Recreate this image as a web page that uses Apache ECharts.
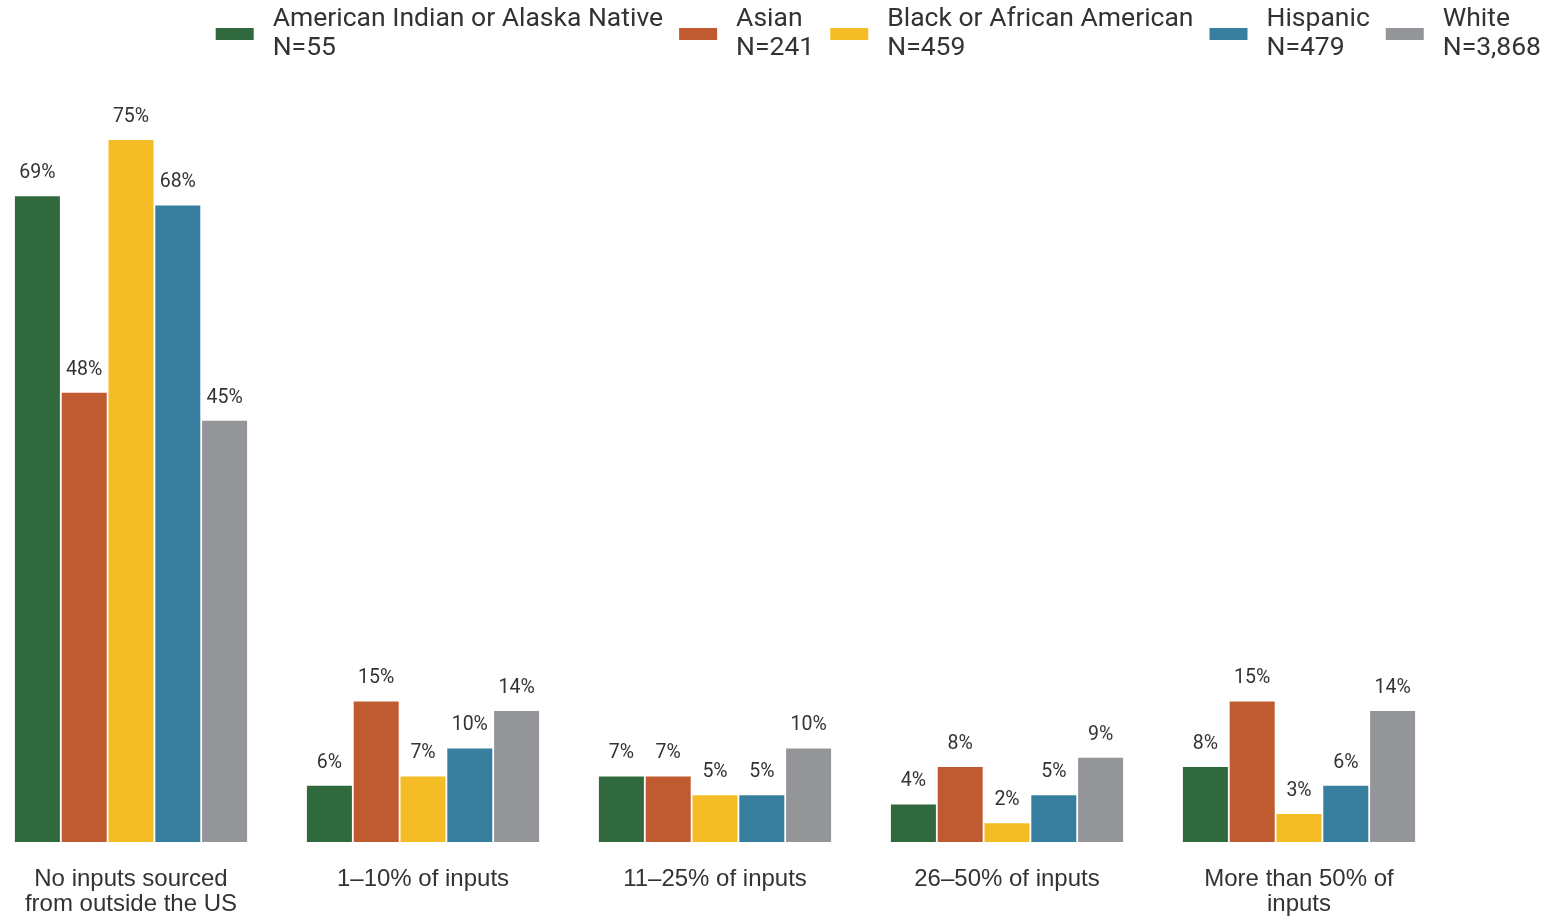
<!DOCTYPE html>
<html>
<head>
<meta charset="utf-8">
<script src="https://cdn.jsdelivr.net/npm/echarts@6/dist/echarts.min.js"></script>
<style>
html,body{margin:0;padding:0;background:#fff;}
#chart{width:1548px;height:916px;}
</style>
</head>
<body>
<div id="chart"></div>
<script>
const categories = ['No inputs sourced\nfrom outside the US', '1–10% of inputs', '11–25% of inputs', '26–50% of inputs', 'More than 50% of\ninputs'];
const seriesNames = ['American Indian or Alaska Native', 'Asian', 'Black or African American', 'Hispanic', 'White'];
const sampleSizes = ['N=55', 'N=241', 'N=459', 'N=479', 'N=3,868'];
const colors = ['#30693e', '#c05a30', '#f5bd25', '#387e9f', '#939598'];
const aianValues = [69, 6, 7, 4, 8];
const asianValues = [48, 15, 7, 8, 15];
const blackValues = [75, 7, 5, 2, 3];
const hispanicValues = [68, 10, 5, 5, 6];
const whiteValues = [45, 14, 10, 9, 14];
const allValues = [aianValues, asianValues, blackValues, hispanicValues, whiteValues];

const chart = echarts.init(document.getElementById('chart'));
chart.setOption({
  animation: false,
  color: colors,
  legend: {
    right: 2,
    top: 0,
    itemWidth: 38,
    itemHeight: 12,
    itemGap: 16,
    icon: 'rect',
    data: seriesNames,
    formatter: function (name) {
      return name + '\n' + sampleSizes[seriesNames.indexOf(name)];
    },
    textStyle: { fontFamily: 'Roboto', fontSize: 26.5, color: '#333', lineHeight: 29, padding: [0, 0, 0, 14] }
  },
  grid: { left: -15, width: 1460, top: 93.2, bottom: 74, containLabel: false, outerBoundsMode: 'none' },
  xAxis: {
    type: 'category',
    data: categories,
    axisLine: { show: false },
    axisTick: { show: false },
    axisLabel: { interval: 0, margin: 25, fontFamily: 'Liberation Sans', fontSize: 24, color: '#333', lineHeight: 25 }
  },
  yAxis: { type: 'value', min: 0, max: 80, show: false, splitLine: { show: false } },
  series: seriesNames.map(function (n, i) {
    return {
      name: n,
      type: 'bar',
      data: allValues[i],
      barWidth: 45,
      barGap: '4%',
      itemStyle: { color: colors[i] },
      label: {
        show: true,
        position: 'top',
        distance: 13,
        formatter: '{c}%',
        fontFamily: 'Roboto',
        fontSize: 19.5,
        color: '#333'
      }
    };
  })
});
</script>
</body>
</html>
